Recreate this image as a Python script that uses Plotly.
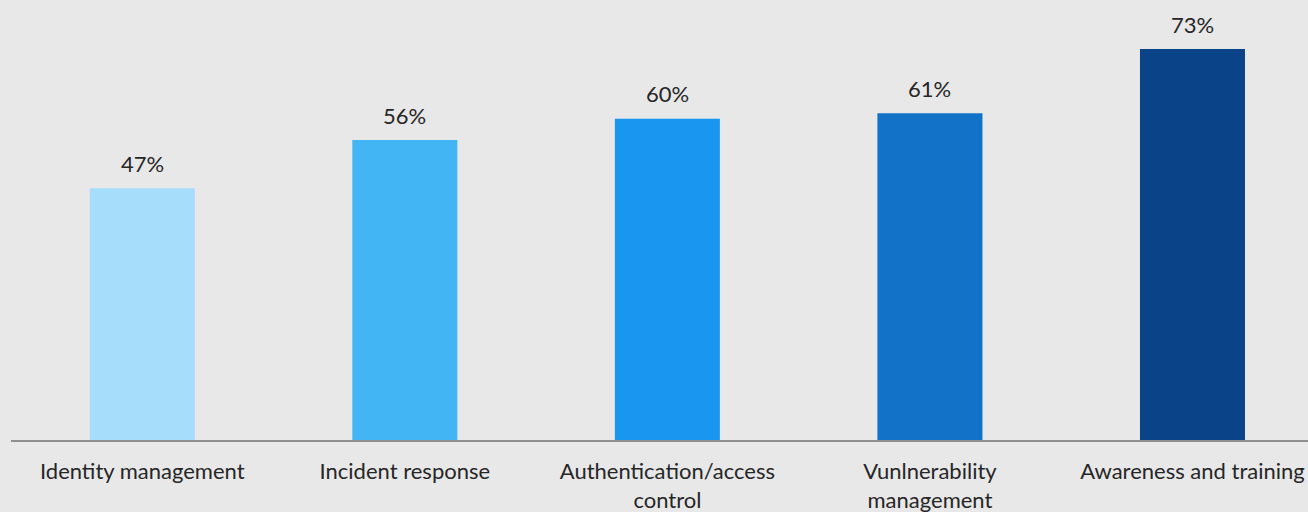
import plotly.graph_objects as go

categories = [
    "Identity management",
    "Incident response",
    "Authentication/access<br>control",
    "Vunlnerability<br>management",
    "Awareness and training",
]
values = [47, 56, 60, 61, 73]
value_labels = ["47%", "56%", "60%", "61%", "73%"]
bar_colors = ["#A6DDFA", "#42B5F4", "#1996EF", "#1172C8", "#0A4388"]

BG = "#E8E8E8"
TEXT = "#262626"
FONT = "Lato"

fig = go.Figure(
    go.Bar(
        x=list(range(len(categories))),
        y=values,
        width=0.4,
        marker=dict(color=bar_colors, line=dict(width=0)),
        hoverinfo="skip",
    )
)

for i, (v, lab) in enumerate(zip(values, value_labels)):
    fig.add_annotation(
        x=i, y=v, text=lab, showarrow=False,
        yanchor="middle", yshift=25,
        font=dict(family=FONT, size=22, color=TEXT),
    )

fig.update_layout(
    width=1308, height=512,
    margin=dict(l=11, r=0, t=0, b=72),
    paper_bgcolor=BG, plot_bgcolor=BG,
    showlegend=False,
    font=dict(family=FONT, size=22, color=TEXT),
)
fig.update_xaxes(
    tickmode="array",
    tickvals=list(range(len(categories))),
    ticktext=categories,
    range=[-0.5, 4.44],
    automargin=False,
    showgrid=False, zeroline=False,
    showline=True, linecolor="#8F8F8F", linewidth=2,
    ticks="", ticklabelstandoff=11,
    tickfont=dict(family=FONT, size=22, color=TEXT),
)
fig.update_yaxes(
    range=[0, 82.15],
    automargin=False,
    visible=False, showgrid=False, zeroline=False,
)

fig.write_html("out.html")
